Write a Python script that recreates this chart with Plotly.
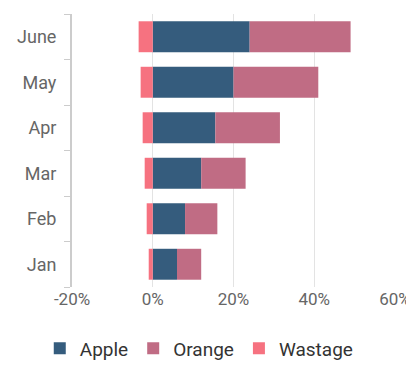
import plotly.graph_objects as go

months = ["Jan", "Feb", "Mar", "Apr", "May", "June"]
apple = [6, 8, 12, 15.5, 20, 24]
orange = [6, 8, 11, 16, 21, 25]
wastage = [-1, -1.5, -2, -2.5, -3, -3.5]
x_ticks = [-20, 0, 20, 40, 60]
x_tick_text = ["-20%", "0%", "20%", "40%", "60%"]

fig = go.Figure()
fig.add_trace(go.Bar(y=months, x=apple, name="Apple", orientation="h",
                     marker=dict(color="#355C7D", line=dict(width=0))))
fig.add_trace(go.Bar(y=months, x=orange, name="Orange", orientation="h",
                     marker=dict(color="#C06C84", line=dict(width=0))))
fig.add_trace(go.Bar(y=months, x=wastage, name="Wastage", orientation="h",
                     marker=dict(color="#F67280", line=dict(width=0))))

fig.update_layout(
    width=424, height=377,
    barmode="relative", bargap=0.32,
    margin=dict(l=72, r=29, t=14, b=90, autoexpand=False),
    paper_bgcolor="white", plot_bgcolor="white",
    font=dict(family="Roboto", size=16, color="#666"),
    showlegend=True,
    legend=dict(orientation="h", x=0.394, xanchor="center", y=-0.155, yanchor="top",
                font=dict(size=19, color="#333"), itemwidth=30, tracegroupgap=0),
    xaxis=dict(range=[-20, 60], tickvals=x_ticks, ticktext=x_tick_text,
               showgrid=True, gridcolor="#e3e3e3", gridwidth=1, automargin=False,
               zeroline=False, showline=False, ticks="",
               tickfont=dict(size=17, color="#666")),
    yaxis=dict(type="category", tickson="boundaries", ticks="outside", ticklen=6,
               tickcolor="#ccc", showline=True, linecolor="#ccc", linewidth=2,
               showgrid=False, zeroline=False, ticklabelstandoff=10, automargin=False,
               tickfont=dict(size=18, color="#666")),
)

fig.write_html("out.html", config={"displayModeBar": False},
               post_script="document.body.style.margin='0';document.body.style.overflow='hidden';")
